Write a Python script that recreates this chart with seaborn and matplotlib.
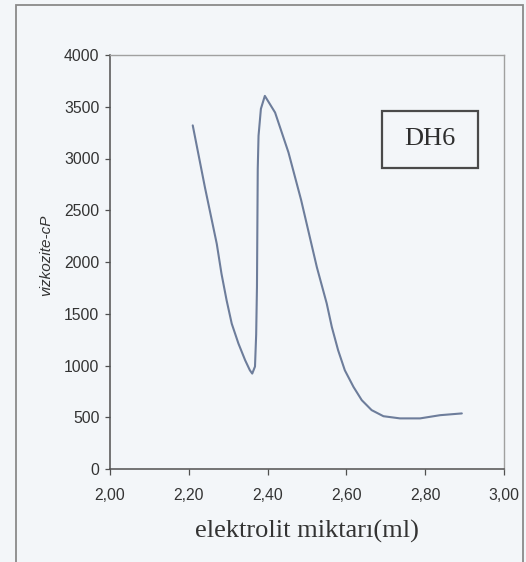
import matplotlib
matplotlib.use("Agg")
import matplotlib.pyplot as plt
from matplotlib.patches import Rectangle
import seaborn as sns
import pandas as pd

# electrolyte amount (ml) and viscosity (cP) for sample DH6
elektrolit_ml = [2.210, 2.241, 2.271, 2.283, 2.296, 2.309, 2.326, 2.343,
                 2.355, 2.361, 2.368, 2.371, 2.373, 2.375, 2.377, 2.383,
                 2.393, 2.419, 2.453, 2.485, 2.525, 2.550, 2.563, 2.579,
                 2.596, 2.618, 2.639, 2.664, 2.694, 2.736, 2.787, 2.838,
                 2.893]
vizkozite_cp = [3320, 2720, 2175, 1886, 1629, 1404, 1212, 1051,
                954, 922, 990, 1300, 1760, 2900, 3220, 3480,
                3605, 3444, 3058, 2600, 1950, 1600, 1372, 1147,
                954, 793, 665, 569, 510, 489, 489, 520,
                537]

x_ticks = [2.0, 2.2, 2.4, 2.6, 2.8, 3.0]
x_tick_labels = ["2,00", "2,20", "2,40", "2,60", "2,80", "3,00"]
y_ticks = [0, 500, 1000, 1500, 2000, 2500, 3000, 3500, 4000]
sample_name = "DH6"

df = pd.DataFrame({"elektrolit": elektrolit_ml, "vizkozite": vizkozite_cp})

sns.set_theme(style="white")
plt.rcParams["font.family"] = ["Liberation Sans", "DejaVu Sans"]
serif = ["Liberation Serif", "DejaVu Serif"]

paper = "#f3f6f9"
text_col = "#333333"

fig = plt.figure(figsize=(5.26, 5.62), dpi=100, facecolor=paper)
ax = fig.add_axes([110 / 526, 1 - 469 / 562, 394 / 526, 414 / 562])
ax.set_facecolor(paper)

sns.lineplot(data=df, x="elektrolit", y="vizkozite", sort=False,
             estimator=None, color="#6d7d9b", linewidth=1.5, ax=ax)

ax.set_xlim(2.0, 3.0)
ax.set_ylim(0, 4000)
ax.set_xticks(x_ticks)
ax.set_xticklabels(x_tick_labels)
ax.set_yticks(y_ticks)

ax.tick_params(axis="x", direction="out", length=4.5, width=0.9,
               color="#505050", pad=9, labelsize=11.3, labelcolor=text_col,
               bottom=True)
ax.tick_params(axis="y", direction="out", length=3.6, width=0.9,
               color="#505050", pad=4, labelsize=11.3, labelcolor=text_col,
               left=True)

for side in ("left", "bottom"):
    ax.spines[side].set_color("#505050")
    ax.spines[side].set_linewidth(1.1)
for side in ("top", "right"):
    ax.spines[side].set_color("#a0a0a0")
    ax.spines[side].set_linewidth(1.0)

ax.set_xlabel("elektrolit miktarı(ml)", family=serif,
              fontsize=19, color=text_col, labelpad=12)
ax.set_ylabel("vizkozite-cP", fontsize=11, style="italic", color=text_col)
ax.yaxis.set_label_coords(-0.145, 0.515)

# sample tag box
ax.add_patch(Rectangle((0.690, 0.727), 0.244, 0.138, transform=ax.transAxes,
                       facecolor=paper, edgecolor="#4a4a4a", linewidth=1.6,
                       zorder=3))
ax.text(0.812, 0.796, sample_name, transform=ax.transAxes, ha="center",
        va="center", family=serif, fontsize=19, color="#2e2e2e", zorder=4)

# outer chart frame
fig.patches.append(Rectangle((16 / 526, -0.05), (523 - 16) / 526,
                             1.05 - 5 / 562, transform=fig.transFigure,
                             fill=False, edgecolor="#8a8a8a", linewidth=1.3))

fig.savefig("out.png", dpi=100, facecolor=paper)
